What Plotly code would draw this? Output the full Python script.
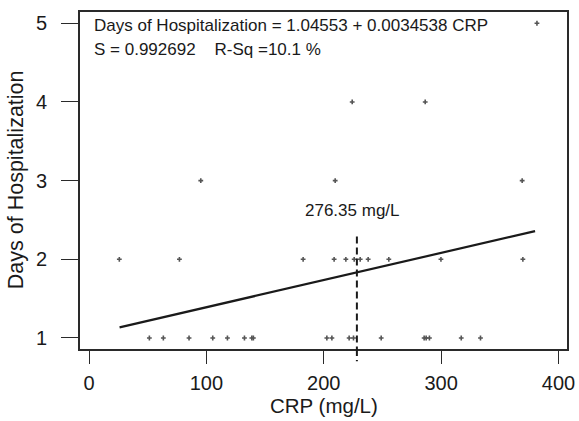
import plotly.graph_objects as go

# Data
crp_day1 = [51.4, 63.3, 85.2, 105.4, 117.9, 132.4, 138.7, 140.0, 202.6, 206.9,
            221.6, 225.3, 248.9, 285.5, 287.2, 290.0, 317.1, 333.5]
crp_day2 = [25.8, 77.0, 182.4, 208.8, 218.8, 225.9, 231.0, 237.8, 255.4, 299.8, 369.6]
crp_day3 = [95.2, 209.7, 369.0]
crp_day4 = [224.2, 286.4]
crp_day5 = [381.6]

days_values = [1, 2, 3, 4, 5]

intercept = 1.04553
slope = 0.0034538
fit_x = [26, 380]
cutoff_crp = 228.2
cutoff_top = 2.29

x_ticks = [0, 100, 200, 300, 400]
y_ticks = [1, 2, 3, 4, 5]

crp_all = []
days_all = []
for d, arr in zip(days_values, [crp_day1, crp_day2, crp_day3, crp_day4, crp_day5]):
    crp_all += arr
    days_all += [d] * len(arr)

fit_y = [intercept + slope * x for x in fit_x]

FONT = "Liberation Sans, Arial, sans-serif"
AX = "#2a2a2a"

fig = go.Figure()
fig.add_trace(go.Scatter(
    x=crp_all, y=days_all, mode="markers",
    marker=dict(symbol="cross", size=4, color="#555555", line=dict(width=0)),
    showlegend=False, hoverinfo="skip"))
fig.add_trace(go.Scatter(
    x=fit_x, y=fit_y, mode="lines",
    line=dict(color="#1a1a1a", width=2.2), showlegend=False, hoverinfo="skip"))

fig.add_shape(type="line", xref="x", yref="y", x0=cutoff_crp, x1=cutoff_crp,
              y0=cutoff_top, y1=0.86,
              line=dict(color="#1a1a1a", width=2, dash="7px,4px"))
fig.add_shape(type="line", xref="x", yref="paper", x0=cutoff_crp, x1=cutoff_crp,
              y0=0, y1=-0.036,
              line=dict(color="#1a1a1a", width=2, dash="7px,4px"))

fig.add_annotation(x=0.024, y=0.96, xref="paper", yref="paper", xanchor="left", yanchor="middle",
                   text="Days of Hospitalization = 1.04553 + 0.0034538 CRP",
                   showarrow=False, font=dict(size=17, color="#1a1a1a", family=FONT))
fig.add_annotation(x=0.024, y=0.889, xref="paper", yref="paper", xanchor="left", yanchor="middle",
                   text="S = 0.992692\u00a0\u00a0\u00a0\u00a0R-Sq =10.1 %",
                   showarrow=False, font=dict(size=17, color="#1a1a1a", family=FONT))
fig.add_annotation(x=cutoff_crp - 4, y=2.62, xref="x", yref="y", xanchor="center", yanchor="middle",
                   text="276.35 mg/L",
                   showarrow=False, font=dict(size=17, color="#1a1a1a", family=FONT))

# axis titles
fig.add_annotation(x=0.5, y=-0.168, xref="paper", yref="paper", xanchor="center", yanchor="middle",
                   text="CRP (mg/L)", showarrow=False, font=dict(size=20.5, color="#1a1a1a", family=FONT))
fig.add_annotation(x=-0.13, y=0.503, xref="paper", yref="paper", xanchor="center", yanchor="middle",
                   text="Days of Hospitalization", textangle=-90, showarrow=False,
                   font=dict(size=21.5, color="#1a1a1a", family=FONT))

fig.update_layout(
    width=579, height=421,
    margin=dict(l=80, r=12, t=12, b=72),
    paper_bgcolor="white", plot_bgcolor="white",
    font=dict(family=FONT, size=20, color="#1a1a1a"),
    xaxis=dict(range=[-7.7, 407.2], tickvals=x_ticks, showgrid=False, zeroline=False,
               showline=True, mirror=True, linecolor=AX, linewidth=1.6,
               ticks="outside", ticklen=13, tickwidth=1.4, tickcolor=AX,
               ticklabelstandoff=2, automargin=False),
    yaxis=dict(range=[0.86, 5.143], tickvals=y_ticks, showgrid=False, zeroline=False,
               showline=True, mirror=True, linecolor=AX, linewidth=1.6,
               ticks="outside", ticklen=17, tickwidth=1.4, tickcolor=AX,
               ticklabelstandoff=10, automargin=False),
)

fig.write_html("out.html",
               config={"displayModeBar": False},
               post_script="document.body.style.margin='0';document.body.style.overflow='hidden';")
